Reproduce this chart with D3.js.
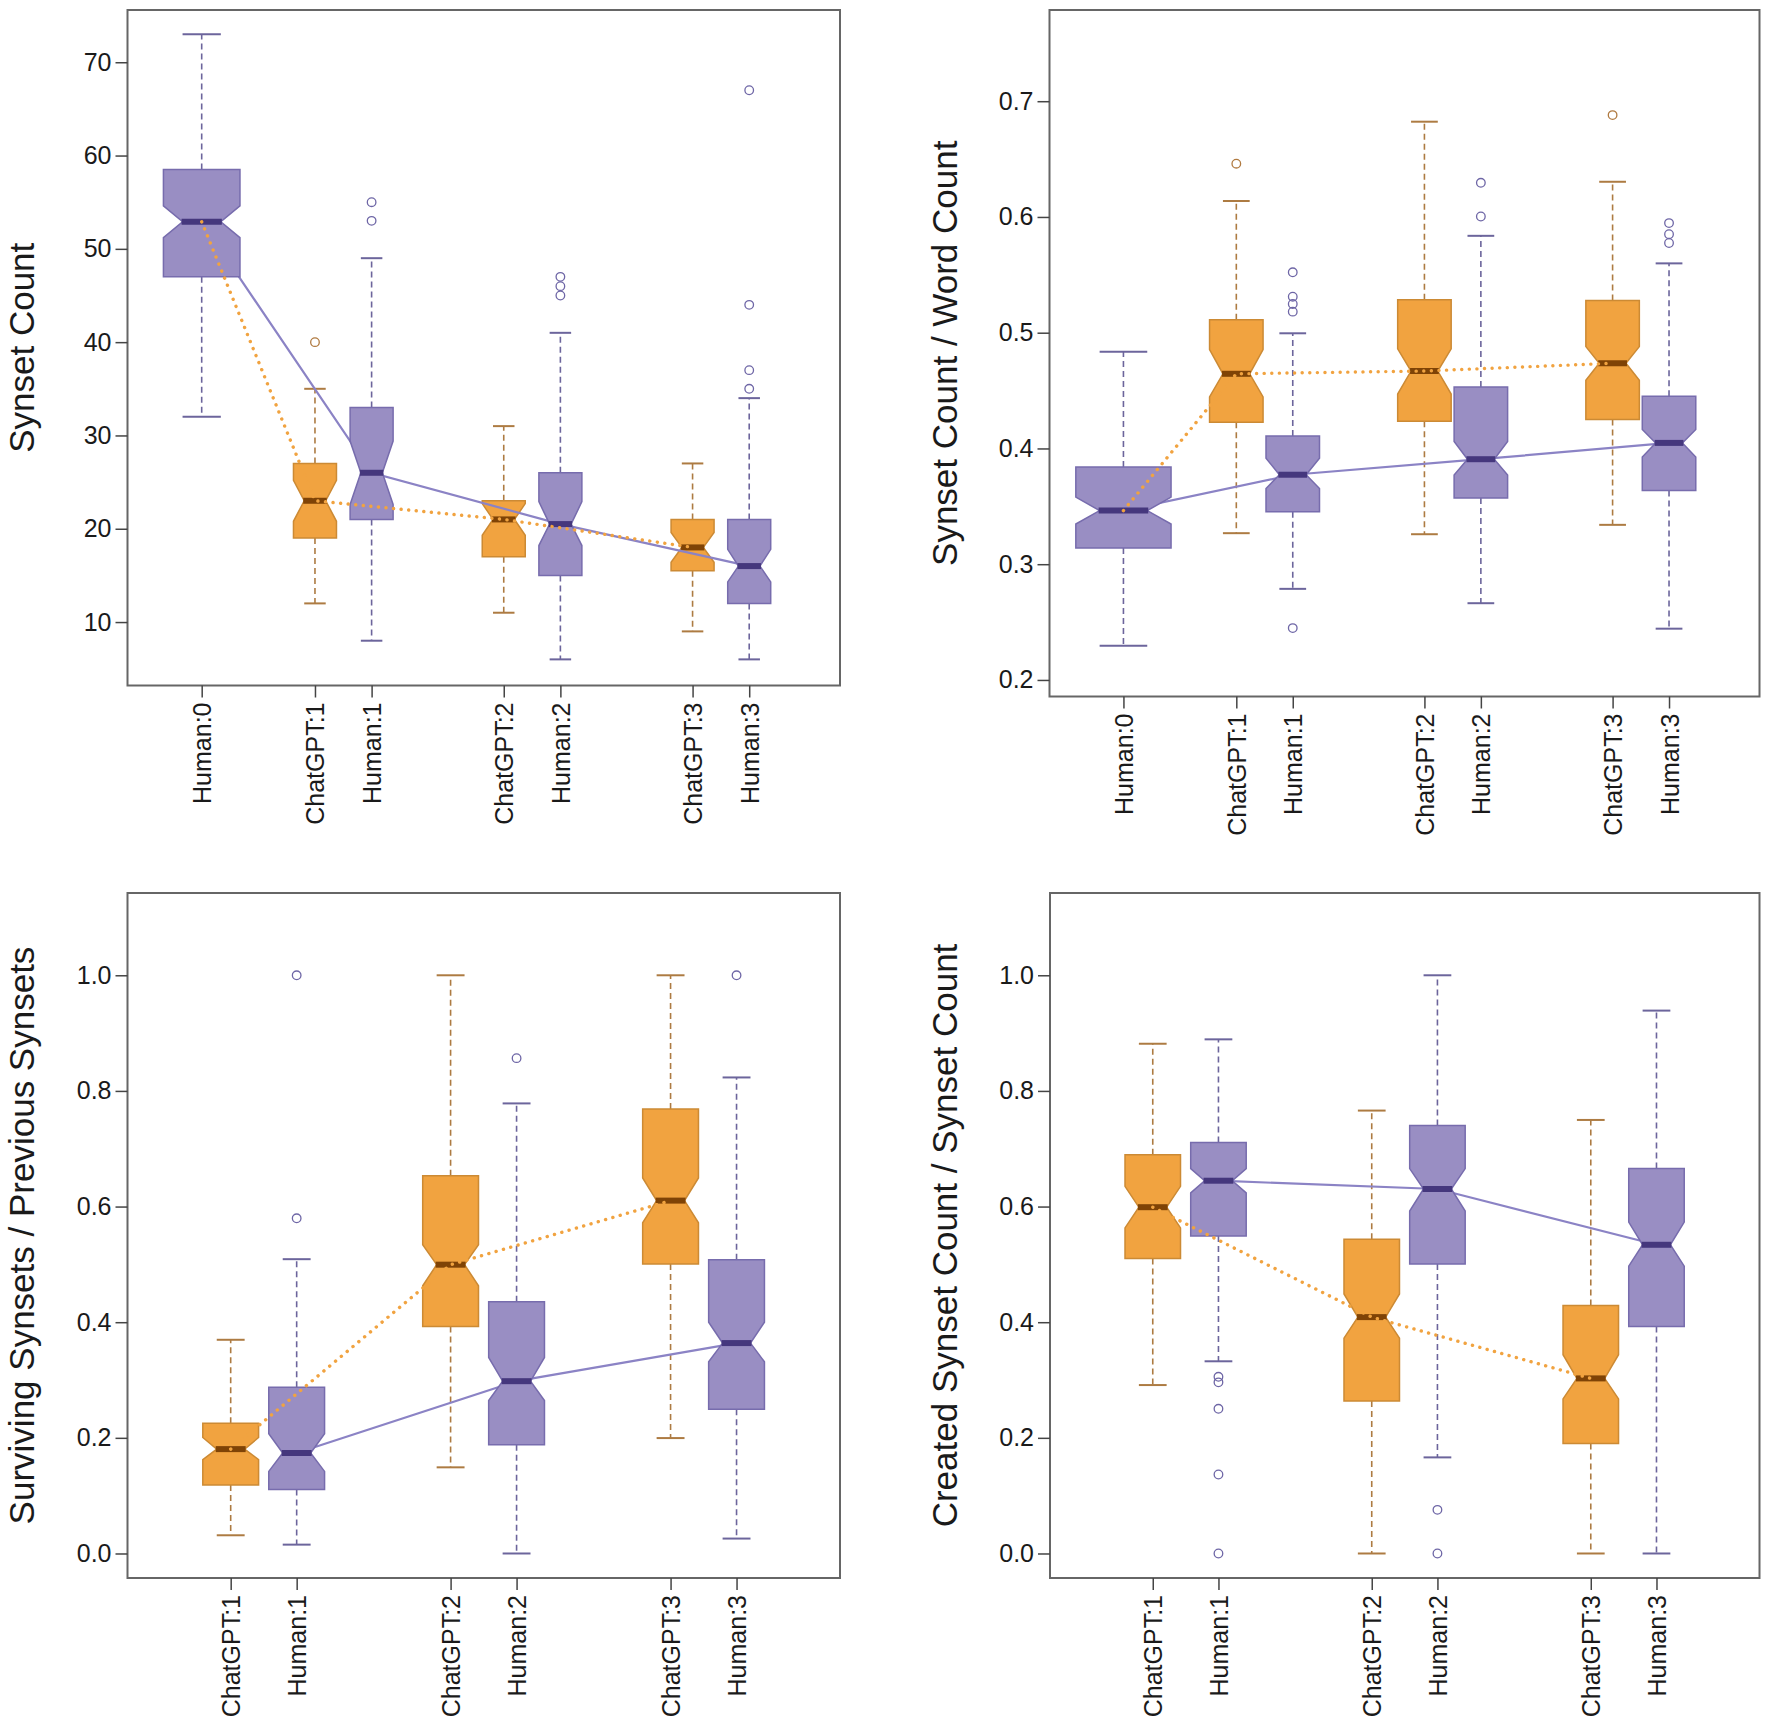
<!DOCTYPE html>
<html>
<head>
<meta charset="utf-8">
<script src="https://cdn.jsdelivr.net/npm/d3@7"></script>
<style>
  html, body { margin: 0; padding: 0; background: #ffffff; }
  svg { display: block; }
  text { font-family: "Liberation Sans", Arial, Helvetica, sans-serif; fill: #1a1a1a; }
</style>
</head>
<body>
<svg id="chart" width="1770" height="1733"></svg>
<script>
// ---------------- DATA ----------------
const cats7 = ["Human:0", "ChatGPT:1", "Human:1", "ChatGPT:2", "Human:2", "ChatGPT:3", "Human:3"];
const cats6 = ["ChatGPT:1", "Human:1", "ChatGPT:2", "Human:2", "ChatGPT:3", "Human:3"];

// Panel 1: Synset Count
const p1Title = "Synset Count";
const p1Ticks = [10, 20, 30, 40, 50, 60, 70];
const p1WhiskerLow  = [32, 12, 8, 11, 6, 9, 6];
const p1Q1          = [47, 19, 21, 17, 15, 15.5, 12];
const p1Median      = [52.9, 23, 26, 21, 20.5, 18, 16];
const p1Q3          = [58.5, 27, 33, 23, 26, 21, 21];
const p1WhiskerHigh = [73, 35, 49, 31, 41, 27, 34];
const p1NotchLo     = [51.2, 20.8, 22.6, 19.3, 18.2, 16.4, 14.3];
const p1NotchHi     = [54.6, 25.2, 29.4, 22.7, 22.9, 19.6, 17.8];
const p1Outliers    = [[], [40], [53, 55], [], [45, 46, 47], [], [35, 37, 44, 67]];

// Panel 2: Synset Count / Word Count
const p2Title = "Synset Count / Word Count";
const p2Ticks = [0.2, 0.3, 0.4, 0.5, 0.6, 0.7];
const p2WhiskerLow  = [0.2295, 0.3268, 0.2787, 0.3259, 0.2663, 0.334, 0.2443];
const p2Q1          = [0.314, 0.4226, 0.3454, 0.4236, 0.3573, 0.425, 0.3636];
const p2Median      = [0.3463, 0.4645, 0.3773, 0.4669, 0.3907, 0.4736, 0.4048];
const p2Q3          = [0.384, 0.5112, 0.4107, 0.5284, 0.4531, 0.5279, 0.445];
const p2WhiskerHigh = [0.4836, 0.6138, 0.4995, 0.6823, 0.5837, 0.6304, 0.5599];
const p2NotchLo     = [0.3347, 0.4445, 0.3654, 0.447, 0.377, 0.459, 0.3926];
const p2NotchHi     = [0.3579, 0.4855, 0.3916, 0.486, 0.406, 0.488, 0.4164];
const p2Outliers    = [[], [0.646], [0.2448, 0.5182, 0.5248, 0.5311, 0.5522], [], [0.6004, 0.6295], [0.688], [0.5775, 0.5851, 0.5947]];

// Panel 3: Surviving Synsets / Previous Synsets
const p3Title = "Surviving Synsets / Previous Synsets";
const p3Ticks = [0.0, 0.2, 0.4, 0.6, 0.8, 1.0];
const p3WhiskerLow  = [0.0315, 0.0153, 0.149, 0.0, 0.1996, 0.0258];
const p3Q1          = [0.1185, 0.1108, 0.3926, 0.1882, 0.5005, 0.2493];
const p3Median      = [0.1805, 0.1738, 0.4995, 0.298, 0.6103, 0.3639];
const p3Q3          = [0.2254, 0.2875, 0.6533, 0.4355, 0.7689, 0.5081];
const p3WhiskerHigh = [0.3696, 0.509, 1.0, 0.7784, 1.0, 0.8233];
const p3NotchLo     = [0.1624, 0.142, 0.463, 0.2646, 0.572, 0.3314];
const p3NotchHi     = [0.2006, 0.207, 0.534, 0.339, 0.6495, 0.40];
const p3Outliers    = [[], [0.5797, 1.0], [], [0.8567], [], [1.0]];

// Panel 4: Created Synset Count / Synset Count
const p4Title = "Created Synset Count / Synset Count";
const p4Ticks = [0.0, 0.2, 0.4, 0.6, 0.8, 1.0];
const p4WhiskerLow  = [0.2913, 0.3324, 0.0, 0.1662, 0.0, 0.0];
const p4Q1          = [0.51, 0.5492, 0.2636, 0.5005, 0.1901, 0.3926];
const p4Median      = [0.5989, 0.6447, 0.4088, 0.6304, 0.3028, 0.5339];
const p4Q3          = [0.6896, 0.7106, 0.5435, 0.7402, 0.4289, 0.6657];
const p4WhiskerHigh = [0.8816, 0.8892, 0.766, 1.0, 0.7498, 0.9389];
const p4NotchLo     = [0.563, 0.6237, 0.3725, 0.5922, 0.2674, 0.497];
const p4NotchHi     = [0.635, 0.6657, 0.4489, 0.6657, 0.3438, 0.5731];
const p4Outliers    = [[], [0.0, 0.1366, 0.2502, 0.296, 0.3056], [], [0.0, 0.0755], [], []];

// median-connecting lines
const humanPath7 = ["Human:0", "Human:1", "Human:2", "Human:3"];
const gptPath7   = ["Human:0", "ChatGPT:1", "ChatGPT:2", "ChatGPT:3"];
const humanPath6 = ["Human:1", "Human:2", "Human:3"];
const gptPath6   = ["ChatGPT:1", "ChatGPT:2", "ChatGPT:3"];

// ---------------- LAYOUT / STYLE ----------------
const slot7 = [0, 2, 3, 5.333, 6.333, 8.667, 9.667];
const slot7Domain = [-1.31, 11.27];
const slot6 = [0, 1, 3.333, 4.333, 6.667, 7.667];
const slot6Domain = [-1.564, 9.235];

const panels = [
  { title: p1Title, cats: cats7, ticks: p1Ticks, fmt: d3.format("d"),
    lo: p1WhiskerLow, q1: p1Q1, med: p1Median, q3: p1Q3, hi: p1WhiskerHigh,
    nlo: p1NotchLo, nhi: p1NotchHi, out: p1Outliers, hPath: humanPath7, gPath: gptPath7,
    slots: slot7, xDom: slot7Domain, yDom: [3.2, 75.6],
    frame: { l: 127.5, t: 10, r: 840, b: 685.5 }, boxW: 43, titleX: 34 },
  { title: p2Title, cats: cats7, ticks: p2Ticks, fmt: d3.format(".1f"),
    lo: p2WhiskerLow, q1: p2Q1, med: p2Median, q3: p2Q3, hi: p2WhiskerHigh,
    nlo: p2NotchLo, nhi: p2NotchHi, out: p2Outliers, hPath: humanPath7, gPath: gptPath7,
    slots: slot7, xDom: slot7Domain, yDom: [0.1857, 0.7788],
    frame: { l: 1049.5, t: 10, r: 1759.5, b: 696.5 }, boxW: 53.5, titleX: 957 },
  { title: p3Title, cats: cats6, ticks: p3Ticks, fmt: d3.format(".1f"),
    lo: p3WhiskerLow, q1: p3Q1, med: p3Median, q3: p3Q3, hi: p3WhiskerHigh,
    nlo: p3NotchLo, nhi: p3NotchHi, out: p3Outliers, hPath: humanPath6, gPath: gptPath6,
    slots: slot6, xDom: slot6Domain, yDom: [-0.0424, 1.1423],
    frame: { l: 127.5, t: 893, r: 840, b: 1578 }, boxW: 55.8, titleX: 34 },
  { title: p4Title, cats: cats6, ticks: p4Ticks, fmt: d3.format(".1f"),
    lo: p4WhiskerLow, q1: p4Q1, med: p4Median, q3: p4Q3, hi: p4WhiskerHigh,
    nlo: p4NotchLo, nhi: p4NotchHi, out: p4Outliers, hPath: humanPath6, gPath: gptPath6,
    slots: slot6, xDom: slot6Domain, yDom: [-0.0424, 1.1423],
    frame: { l: 1050, t: 893, r: 1759.5, b: 1578 }, boxW: 55.5, titleX: 957 }
];

const human0WidthFactor = 1.78;

const style = {
  gpt:   { fill: "#f1a340", border: "#cc8a34", med: "#7f4306", whisk: "#ad7b42", outl: "#b07a40", line: "#f1a340" },
  human: { fill: "#998ec3", border: "#776cad", med: "#45377d", whisk: "#6c659c", outl: "#6e66a6", line: "#8b83c5" }
};

// ---------------- DRAW ----------------
const svg = d3.select("#chart");
svg.append("rect").attr("width", 1770).attr("height", 1733).attr("fill", "#ffffff");

panels.forEach(p => {
  const f = p.frame;
  const x = d3.scaleLinear().domain(p.xDom).range([f.l, f.r]);
  const y = d3.scaleLinear().domain(p.yDom).range([f.b, f.t]);
  const g = svg.append("g");

  const posOf = c => x(p.slots[p.cats.indexOf(c)]);
  const medOf = c => y(p.med[p.cats.indexOf(c)]);
  const lineGen = d3.line().x(c => posOf(c)).y(c => medOf(c));

  const gptLayer = g.append("g");
  const humanLineLayer = g.append("g");
  const humanLayer = g.append("g");
  const gptLineLayer = g.append("g");

  // boxes
  p.cats.forEach((c, i) => {
    const isGpt = c.startsWith("ChatGPT");
    const s = isGpt ? style.gpt : style.human;
    const cx = x(p.slots[i]);
    const w = (c === "Human:0" ? p.boxW * human0WidthFactor : p.boxW) / 2;
    const bg = (isGpt ? gptLayer : humanLayer).append("g");

    // whiskers (dashed)
    bg.append("line").attr("x1", cx).attr("x2", cx).attr("y1", y(p.q3[i])).attr("y2", y(p.hi[i]))
      .attr("stroke", s.whisk).attr("stroke-width", 1.6).attr("stroke-dasharray", "6,4");
    bg.append("line").attr("x1", cx).attr("x2", cx).attr("y1", y(p.q1[i])).attr("y2", y(p.lo[i]))
      .attr("stroke", s.whisk).attr("stroke-width", 1.6).attr("stroke-dasharray", "6,4");
    // staples
    [p.hi[i], p.lo[i]].forEach(v => {
      bg.append("line").attr("x1", cx - w / 2).attr("x2", cx + w / 2).attr("y1", y(v)).attr("y2", y(v))
        .attr("stroke", s.whisk).attr("stroke-width", 2);
    });

    // notched box
    const pts = [
      [cx - w, y(p.q1[i])], [cx + w, y(p.q1[i])], [cx + w, y(p.nlo[i])], [cx + w / 2, y(p.med[i])],
      [cx + w, y(p.nhi[i])], [cx + w, y(p.q3[i])], [cx - w, y(p.q3[i])], [cx - w, y(p.nhi[i])],
      [cx - w / 2, y(p.med[i])], [cx - w, y(p.nlo[i])]
    ];
    bg.append("polygon").attr("points", pts.map(d => d.join(",")).join(" "))
      .attr("fill", s.fill).attr("stroke", s.border).attr("stroke-width", 1.5).attr("stroke-linejoin", "miter");

    // median
    bg.append("line").attr("x1", cx - w / 2 - 1).attr("x2", cx + w / 2 + 1)
      .attr("y1", y(p.med[i])).attr("y2", y(p.med[i]))
      .attr("stroke", s.med).attr("stroke-width", 6);

    // outliers
    p.out[i].forEach(v => {
      bg.append("circle").attr("cx", cx).attr("cy", y(v)).attr("r", 4.3)
        .attr("fill", "none").attr("stroke", s.outl).attr("stroke-width", 1.3);
    });
  });

  // median lines
  humanLineLayer.append("path").attr("d", lineGen(p.hPath)).attr("fill", "none")
    .attr("stroke", style.human.line).attr("stroke-width", 2.2);
  gptLineLayer.append("path").attr("d", lineGen(p.gPath)).attr("fill", "none")
    .attr("stroke", style.gpt.line).attr("stroke-width", 3.4)
    .attr("stroke-dasharray", "0.1,7.5").attr("stroke-linecap", "round");

  // frame
  g.append("rect").attr("x", f.l).attr("y", f.t).attr("width", f.r - f.l).attr("height", f.b - f.t)
    .attr("fill", "none").attr("stroke", "#666666").attr("stroke-width", 2);

  // y axis
  const ya = g.append("g").attr("transform", `translate(${f.l},0)`)
    .call(d3.axisLeft(y).tickValues(p.ticks).tickFormat(p.fmt).tickSize(12).tickPadding(4));
  ya.select(".domain").remove();
  ya.selectAll(".tick line").attr("stroke", "#444").attr("stroke-width", 1.5);
  ya.selectAll(".tick text").attr("font-size", 25).attr("fill", "#1a1a1a")
    .attr("font-family", "'Liberation Sans', Arial, sans-serif");

  // x axis
  const xa = g.append("g").attr("transform", `translate(0,${f.b})`)
    .call(d3.axisBottom(x).tickValues(p.slots).tickFormat((d, i) => p.cats[i]).tickSize(12).tickPadding(4));
  xa.select(".domain").remove();
  xa.selectAll(".tick line").attr("stroke", "#444").attr("stroke-width", 1.5);
  xa.selectAll(".tick text")
    .attr("font-size", 25).attr("fill", "#1a1a1a")
    .attr("font-family", "'Liberation Sans', Arial, sans-serif")
    .attr("transform", "rotate(-90)")
    .attr("text-anchor", "end")
    .attr("x", -17).attr("y", 0).attr("dy", "0.36em");

  // y title
  const cy = (f.t + f.b) / 2;
  g.append("text").attr("transform", `translate(${p.titleX},${cy}) rotate(-90)`)
    .attr("text-anchor", "middle").attr("font-size", 35).text(p.title);
});
</script>
</body>
</html>
